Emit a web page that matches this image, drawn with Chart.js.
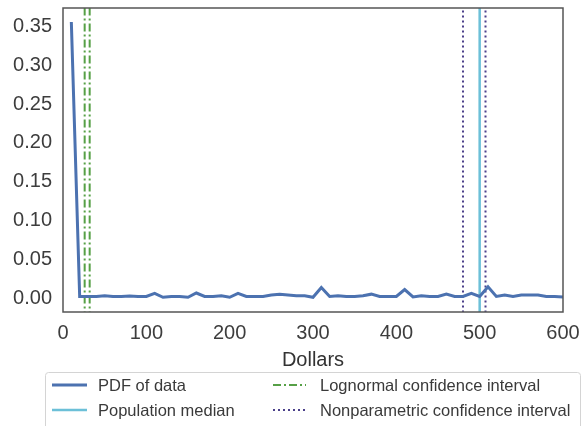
<!DOCTYPE html>
<html>
<head>
<meta charset="utf-8">
<script src="https://cdn.jsdelivr.net/npm/chart.js@4"></script>
<style>
  body { margin: 0; background: #fff; }
  #wrap { width: 582px; height: 426px; }
</style>
</head>
<body>
<div id="wrap"><canvas id="pdfChart" width="582" height="426"></canvas></div>
<script>
// dollars (bin positions) and the pdf
const dollars = [10, 20, 30, 40, 50, 60, 70, 80, 90, 100,
  110, 120, 130, 140, 150, 160, 170, 180, 190, 200,
  210, 220, 230, 240, 250, 260, 270, 280, 290, 300,
  310, 320, 330, 340, 350, 360, 370, 380, 390, 400,
  410, 420, 430, 440, 450, 460, 470, 480, 490, 500,
  510, 520, 530, 540, 550, 560, 570, 580, 590, 600];
const pdfValues = [0.356, 0.002, 0.002, 0.002, 0.003, 0.002, 0.002, 0.0025, 0.002, 0.002,
  0.006, 0.001, 0.002, 0.002, 0.001, 0.0065, 0.002, 0.002, 0.003, 0.001,
  0.006, 0.002, 0.002, 0.002, 0.004, 0.005, 0.004, 0.003, 0.003, 0.001,
  0.0137, 0.002, 0.003, 0.002, 0.002, 0.003, 0.005, 0.002, 0.002, 0.002,
  0.011, 0.0015, 0.003, 0.002, 0.002, 0.005, 0.002, 0.002, 0.006, 0.002,
  0.0145, 0.002, 0.004, 0.002, 0.004, 0.004, 0.004, 0.002, 0.002, 0.0015];

// vertical reference lines
const populationMedian = 500;
const lognormalCI = [26, 32];
const nonparametricCI = [480, 507];

// axis stuff
const xTicks = [0, 100, 200, 300, 400, 500, 600];
const yTicks = [0, 0.05, 0.10, 0.15, 0.20, 0.25, 0.30, 0.35];
const xRange = [0, 600];
const yRange = [-0.018, 0.374];

const legendLabels = ['PDF of data', 'Population median', 'Lognormal confidence interval', 'Nonparametric confidence interval'];

const tickColor = '#3d3d3d';
const fontFamily = '"Liberation Sans", Arial, sans-serif';

// makes a vertical line going through the whole y range
function vline(x) {
    return [{ x: x, y: yRange[0] - 1 }, { x: x, y: yRange[1] + 1 }];
}

const pdfPoints = dollars.map((d, i) => ({ x: d, y: pdfValues[i] }));

const datasets = [
    {
        label: legendLabels[0],
        data: pdfPoints,
        borderColor: '#4c72b0',
        borderWidth: 3,
        pointRadius: 0,
        tension: 0
    },
    {
        label: legendLabels[1],
        data: vline(populationMedian),
        borderColor: '#6cc0d8',
        borderWidth: 2.5,
        pointRadius: 0
    },
    {
        label: legendLabels[2],
        data: vline(lognormalCI[0]),
        borderColor: '#56a046',
        borderWidth: 2,
        borderDash: [8, 3, 2, 3],
        pointRadius: 0
    },
    {
        label: legendLabels[3],
        data: vline(nonparametricCI[0]),
        borderColor: '#4b3f8a',
        borderWidth: 2,
        borderDash: [2, 3],
        pointRadius: 0
    },
    {
        label: '',
        data: vline(lognormalCI[1]),
        borderColor: '#56a046',
        borderWidth: 2,
        borderDash: [8, 3, 2, 3],
        pointRadius: 0
    },
    {
        label: '',
        data: vline(nonparametricCI[1]),
        borderColor: '#4b3f8a',
        borderWidth: 2,
        borderDash: [2, 3],
        pointRadius: 0
    }
];

// frame around the plot area (spines)
const framePlugin = {
    id: 'frame',
    afterDatasetsDraw(chart) {
        const a = chart.chartArea;
        const ctx = chart.ctx;
        ctx.save();
        ctx.strokeStyle = '#555555';
        ctx.lineWidth = 1.5;
        ctx.strokeRect(a.left, a.top, a.right - a.left, a.bottom - a.top);
        ctx.restore();
    }
};

// matplotlib style legend box in two columns
const legendPlugin = {
    id: 'boxLegend',
    afterDraw(chart) {
        const ctx = chart.ctx;
        ctx.save();
        ctx.fillStyle = '#ffffff';
        ctx.strokeStyle = '#d4d4d4';
        ctx.lineWidth = 1;
        ctx.beginPath();
        ctx.roundRect(45.5, 372.5, 535, 60, 3);
        ctx.fill();
        ctx.stroke();

        const cols = [{ x0: 52, x1: 87, tx: 98 }, { x0: 273, x1: 306, tx: 320 }];
        const rows = [385, 410];
        ctx.font = '16.5px ' + fontFamily;
        ctx.textBaseline = 'middle';
        for (let i = 0; i < 4; i++) {
            const ds = chart.data.datasets[i];
            const c = cols[Math.floor(i / 2)];
            const y = rows[i % 2];
            ctx.strokeStyle = ds.borderColor;
            ctx.lineWidth = ds.borderWidth;
            ctx.setLineDash(ds.borderDash || []);
            ctx.beginPath();
            ctx.moveTo(c.x0, y);
            ctx.lineTo(c.x1, y);
            ctx.stroke();
            ctx.setLineDash([]);
            ctx.fillStyle = '#3a3a3a';
            ctx.fillText(legendLabels[i], c.tx, y + 1);
        }
        ctx.restore();
    }
};

new Chart(document.getElementById('pdfChart'), {
    type: 'line',
    data: { datasets: datasets },
    options: {
        responsive: false,
        animation: false,
        layout: { padding: { top: 8, right: 19, left: 0, bottom: 54 } },
        plugins: {
            legend: { display: false },
            tooltip: { enabled: false }
        },
        scales: {
            x: {
                type: 'linear',
                min: xRange[0],
                max: xRange[1],
                grid: { display: false, drawTicks: false },
                border: { display: false },
                afterBuildTicks: axis => { axis.ticks = xTicks.map(v => ({ value: v })); },
                afterFit: axis => {
                    axis.height = 60;
                    axis.paddingLeft = 0;
                    axis.paddingRight = 0;
                },
                ticks: {
                    color: tickColor,
                    padding: 9,
                    maxRotation: 0,
                    font: { family: fontFamily, size: 20 }
                },
                title: {
                    display: true,
                    text: 'Dollars',
                    color: '#333333',
                    padding: 0,
                    font: { family: fontFamily, size: 20 }
                }
            },
            y: {
                type: 'linear',
                min: yRange[0],
                max: yRange[1],
                grid: { display: false, drawTicks: false },
                border: { display: false },
                afterBuildTicks: axis => { axis.ticks = yTicks.map(v => ({ value: v })); },
                afterFit: axis => {
                    axis.width = 63;
                    axis.paddingTop = 0;
                    axis.paddingBottom = 0;
                },
                ticks: {
                    color: tickColor,
                    padding: 11,
                    font: { family: fontFamily, size: 20 },
                    callback: v => v.toFixed(2)
                }
            }
        }
    },
    plugins: [framePlugin, legendPlugin]
});
</script>
</body>
</html>
